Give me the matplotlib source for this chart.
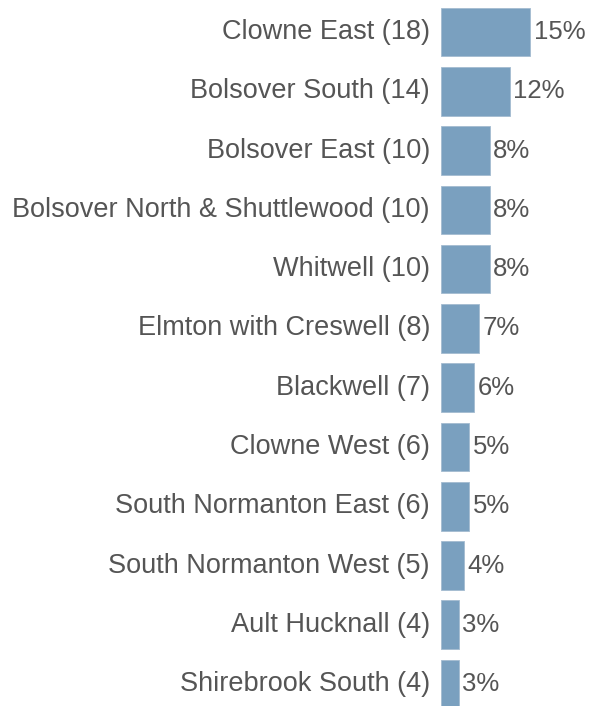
import matplotlib.pyplot as plt

wards = ["Clowne East", "Bolsover South", "Bolsover East",
         "Bolsover North & Shuttlewood", "Whitwell", "Elmton with Creswell",
         "Blackwell", "Clowne West", "South Normanton East",
         "South Normanton West", "Ault Hucknall", "Shirebrook South"]
counts = [18, 14, 10, 10, 10, 8, 7, 6, 6, 5, 4, 4]
total = 120

plt.rcParams['font.family'] = ['Liberation Sans', 'DejaVu Sans']

# 1 count ~ 5.1 px, axes starts a little left of the bars
W, H = 589, 706
x0_px = 438.5
px_per = 5.1
fig = plt.figure(figsize=(W / 100, H / 100), dpi=100)
ax = fig.add_axes([x0_px / W, 0, 1 - x0_px / W, 1])

bar_color = '#7aa0bf'
text_color = '#555555'
start = 0.49

ypos = list(range(len(wards)))
ax.barh(ypos, [c - start for c in counts], left=start, height=0.82,
        color=bar_color, edgecolor='#a3bbd0', linewidth=0.6)

for y, name, c in zip(ypos, wards, counts):
    ax.text(start - 11 / px_per, y, f"{name} ({c})", ha='right', va='center',
            fontsize=19.5, color=text_color, clip_on=False)
    ax.text(c + 3.5 / px_per, y, f"{round(c / total * 100):.0f}%", ha='left',
            va='center', fontsize=18.5, color=text_color)

ax.set_xlim(0, (W - x0_px) / px_per)
ax.set_ylim(11.37, -0.54)
ax.axis('off')

fig.savefig('out.png', dpi=100)
